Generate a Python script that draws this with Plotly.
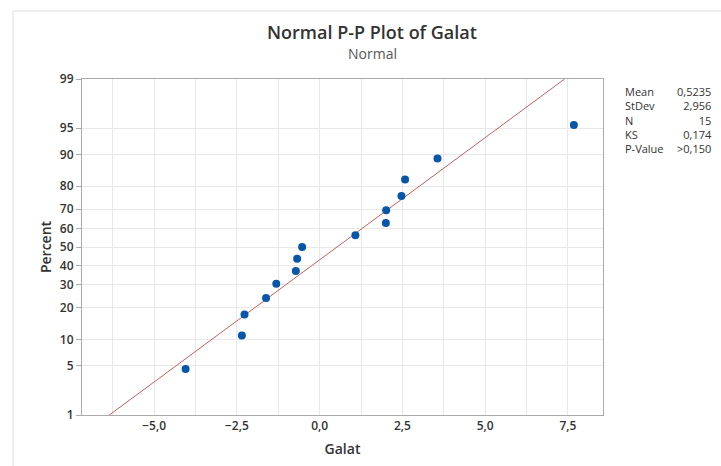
import plotly.graph_objects as go
from statistics import NormalDist

# ---- data ----
galat = [-4.05, -2.35, -2.27, -1.62, -1.31, -0.72, -0.68, -0.53,
         1.08, 2.00, 2.01, 2.47, 2.58, 3.56, 7.68]
mean_val = 0.5235
stdev_val = 2.956
n_val = 15
stat_labels = ["Mean", "StDev", "N", "KS", "P-Value"]
stat_values = ["0,5235", "2,956", "15", "0,174", ">0,150"]
y_ticks = [1, 5, 10, 20, 30, 40, 50, 60, 70, 80, 90, 95, 99]
x_ticks = [-5.0, -2.5, 0.0, 2.5, 5.0, 7.5]
line_pcts = [1, 99]

nd = NormalDist()
def z(p):
    return nd.inv_cdf(p / 100.0)

xs = sorted(galat)
n = len(xs)
pcts = [(i + 1 - 0.3) / (n + 0.4) * 100 for i in range(n)]
ys = [z(p) for p in pcts]

line_x = [mean_val + stdev_val * z(p) for p in line_pcts]
line_y = [z(p) for p in line_pcts]

font = "Open Sans, Noto Sans, sans-serif"

fig = go.Figure()
fig.add_trace(go.Scatter(x=line_x, y=line_y, mode="lines",
                         line=dict(color="#c5605c", width=1), hoverinfo="skip"))
fig.add_trace(go.Scatter(x=xs, y=ys, mode="markers",
                         marker=dict(color="#0856a8", size=8)))

# layout geometry
L, R, T, B = 82, 118, 79, 51
W, H = 721, 466
pw = W - L - R
ph = H - T - B
def px2paper_x(px):
    return (px - L) / pw
def px2paper_y(py):
    return (H - B - py) / ph

annotations = [
    dict(text="Normal P-P Plot of Galat", x=px2paper_x(372), y=px2paper_y(32),
         xref="paper", yref="paper", showarrow=False,
         font=dict(family=font, size=18, color="#333333", weight=600),
         xanchor="center", yanchor="middle"),
    dict(text="Normal", x=px2paper_x(372), y=px2paper_y(53),
         xref="paper", yref="paper", showarrow=False,
         font=dict(family=font, size=14, color="#555555"), xanchor="center", yanchor="middle"),
    dict(text="<br>".join(stat_labels), x=px2paper_x(623), y=px2paper_y(82),
         xref="paper", yref="paper", showarrow=False, align="left",
         xanchor="left", yanchor="top",
         font=dict(family=font, size=11, color="#333333")),
    dict(text="<br>".join(stat_values), x=px2paper_x(714), y=px2paper_y(82),
         xref="paper", yref="paper", showarrow=False, align="right",
         xanchor="right", yanchor="top",
         font=dict(family=font, size=11, color="#333333")),
]

fig.update_layout(
    width=W, height=H,
    margin=dict(l=L, r=R, t=T, b=B),
    paper_bgcolor="white", plot_bgcolor="white",
    showlegend=False,
    separators=", ",
    font=dict(family=font, color="#333333"),
    annotations=annotations,
    shapes=[dict(type="rect", xref="paper", yref="paper",
                 x0=px2paper_x(13), x1=px2paper_x(760),
                 y0=px2paper_y(520), y1=px2paper_y(11),
                 line=dict(color="#dddddd", width=1), layer="below")],
)

fig.update_xaxes(
    range=[-7.18, 8.56],
    tickvals=x_ticks, tickformat=".1f",
    ticks="", showgrid=True, gridcolor="#e8e8e8",
    minor=dict(dtick=1.25, tick0=0, showgrid=True, gridcolor="#e8e8e8"),
    showline=True, linecolor="#aaaaaa", linewidth=1, mirror=True,
    zeroline=False,
    tickfont=dict(family=font, size=12, color="#333333", weight=600),
    title=dict(text="Galat", font=dict(family=font, size=14, color="#333333", weight=600), standoff=10),
)
fig.update_yaxes(
    range=[z(1), z(99)],
    tickvals=[z(v) for v in y_ticks], ticktext=[str(v) for v in y_ticks],
    ticks="outside", ticklen=5, tickcolor="#aaaaaa",
    showgrid=True, gridcolor="#e8e8e8",
    showline=True, linecolor="#aaaaaa", linewidth=1, mirror=True,
    zeroline=False,
    tickfont=dict(family=font, size=12, color="#333333", weight=600),
    title=dict(text="Percent", font=dict(family=font, size=14, color="#333333", weight=600), standoff=4),
)

fig.write_html("out.html")
